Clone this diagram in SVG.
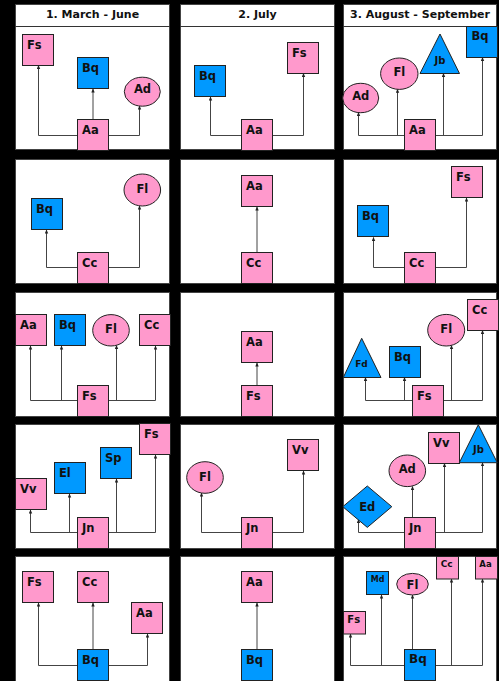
<svg xmlns="http://www.w3.org/2000/svg" width="499" height="681" viewBox="0 0 499 681">
<style>
.panel{fill:#fff;stroke:#444;stroke-width:1}
.hline{stroke:#333;stroke-width:1}
.pk{fill:#FF99CC;stroke:#222;stroke-width:1}
.bl{fill:#0099FF;stroke:#222;stroke-width:1}
text{font-family:"DejaVu Sans",Verdana,sans-serif;font-weight:bold;font-size:11.5px;fill:#111}
.m{text-anchor:middle}
.hd{font-size:11px;text-anchor:middle}
.s8{font-size:8px}
.s9{font-size:9px}
.s10{font-size:10px}
.e{fill:none;stroke:#444;stroke-width:1;marker-end:url(#ah)}
</style>
<defs>
<marker id="ah" markerUnits="userSpaceOnUse" markerWidth="4" markerHeight="4" refX="3.5" refY="2" orient="auto">
<path d="M0,0.3 L4,2 L0,3.7 z" fill="#222"/>
</marker>
</defs>
<rect x="0" y="0" width="499" height="681" fill="#000"/>
<g id="panels">
<rect class="panel" x="15.5" y="4.5" width="154" height="145"/>
<rect class="panel" x="180.5" y="4.5" width="154" height="145"/>
<rect class="panel" x="343.5" y="4.5" width="153" height="145"/>
<line class="hline" x1="15" y1="26.5" x2="170" y2="26.5"/>
<line class="hline" x1="180" y1="26.5" x2="335" y2="26.5"/>
<line class="hline" x1="343" y1="26.5" x2="497" y2="26.5"/>
<text class="hd" x="92.5" y="18">1. March - June</text>
<text class="hd" x="257.5" y="18">2. July</text>
<text class="hd" x="420" y="18">3. August - September</text>
<rect class="panel" x="15.5" y="159.5" width="154" height="124"/>
<rect class="panel" x="180.5" y="159.5" width="154" height="124"/>
<rect class="panel" x="343.5" y="159.5" width="153" height="124"/>
<rect class="panel" x="15.5" y="292.5" width="154" height="124"/>
<rect class="panel" x="180.5" y="292.5" width="154" height="124"/>
<rect class="panel" x="343.5" y="292.5" width="153" height="124"/>
<rect class="panel" x="15.5" y="424.5" width="154" height="124"/>
<rect class="panel" x="180.5" y="424.5" width="154" height="124"/>
<rect class="panel" x="343.5" y="424.5" width="153" height="124"/>
<rect class="panel" x="15.5" y="556.5" width="154" height="126"/>
<rect class="panel" x="180.5" y="556.5" width="154" height="126"/>
<rect class="panel" x="343.5" y="556.5" width="153" height="126"/>
</g>
<g id="connectors">
<path class="e" d="M77,135.5 H38.5 V65.5"/>
<path class="e" d="M93,119 V89"/>
<path class="e" d="M109,135.5 H139.5 V106"/>
<path class="e" d="M241,135.5 H210.5 V97"/>
<path class="e" d="M272,135.5 H303.5 V73.5"/>
<path class="e" d="M404,135.5 H358.5 V112.5"/>
<path class="e" d="M404,135.5 H397.5 V89.3"/>
<path class="e" d="M436,135.5 H443.5 V73.5"/>
<path class="e" d="M436,135.5 H482.5 V57.5"/>
<path class="e" d="M77,267.5 H46.5 V230"/>
<path class="e" d="M109,267.5 H139.5 V206"/>
<path class="e" d="M257,252 V207"/>
<path class="e" d="M404,267.5 H373.5 V237.5"/>
<path class="e" d="M436,267.5 H466.5 V198"/>
<path class="e" d="M77,400.5 H30.5 V346"/>
<path class="e" d="M77,400.5 H61.5 V346"/>
<path class="e" d="M109,400.5 H116.5 V345.5"/>
<path class="e" d="M109,400.5 H155.5 V346"/>
<path class="e" d="M257,385 V363"/>
<path class="e" d="M412,400.5 H365.5 V377.5"/>
<path class="e" d="M412,400.5 H404.5 V377.5"/>
<path class="e" d="M444,400.5 H451.5 V345.5"/>
<path class="e" d="M444,400.5 H482.5 V330.5"/>
<path class="e" d="M77,532.5 H30.5 V510"/>
<path class="e" d="M77,532.5 H69.5 V494"/>
<path class="e" d="M109,532.5 H116.5 V479"/>
<path class="e" d="M109,532.5 H155.5 V455"/>
<path class="e" d="M241,532.5 H201.5 V493"/>
<path class="e" d="M272,532.5 H303.5 V471"/>
<path class="e" d="M404,532.5 H358.5 V519.5"/>
<path class="e" d="M412.5,517.5 V486.5"/>
<path class="e" d="M436,532.5 H444.5 V463.5"/>
<path class="e" d="M436,532.5 H482.5 V462.7"/>
<path class="e" d="M77,665.5 H38.5 V603"/>
<path class="e" d="M93,649 V603"/>
<path class="e" d="M109,665.5 H147.5 V634"/>
<path class="e" d="M257,649 V603"/>
<path class="e" d="M404,665.5 H350.5 V634"/>
<path class="e" d="M404,665.5 H381.5 V595"/>
<path class="e" d="M412.5,649 V595"/>
<path class="e" d="M436,665.5 H451.5 V579"/>
<path class="e" d="M436,665.5 H482.5 V579"/>
</g>
<g id="r1c1-Aa"><rect class="pk" x="77.5" y="119.5" width="31" height="31"/><text x="82" y="133.5">Aa</text></g>
<g id="r1c1-Bq"><rect class="bl" x="77.5" y="57.5" width="31" height="31"/><text x="82" y="71.5">Bq</text></g>
<g id="r1c1-Fs"><rect class="pk" x="22.5" y="34.5" width="31" height="31"/><text x="27" y="48.5">Fs</text></g>
<g id="r1c1-Ad"><ellipse class="pk" cx="142.3" cy="91.7" rx="18" ry="14.5"/><text class="m" x="142.5" y="92.5">Ad</text></g>
<g id="r1c2-Aa"><rect class="pk" x="241.5" y="119.5" width="31" height="31"/><text x="246" y="133.5">Aa</text></g>
<g id="r1c2-Bq"><rect class="bl" x="194.5" y="65.5" width="31" height="31"/><text x="199" y="79.5">Bq</text></g>
<g id="r1c2-Fs"><rect class="pk" x="287.5" y="42.5" width="31" height="31"/><text x="292" y="56.5">Fs</text></g>
<g id="r1c3-Aa"><rect class="pk" x="404.5" y="119.5" width="31" height="31"/><text x="409" y="133.5">Aa</text></g>
<g id="r1c3-Ad"><ellipse class="pk" cx="360.7" cy="98" rx="18" ry="14.7"/><text class="m" x="360.7" y="99.5">Ad</text></g>
<g id="r1c3-Fl"><ellipse class="pk" cx="399.3" cy="73.7" rx="18.7" ry="15.7"/><text class="m" x="399.3" y="76">Fl</text></g>
<g id="r1c3-Jb"><polygon class="bl" points="440,34 420,73.5 459.5,73.5"/><text class="m s10" x="440" y="63.5">Jb</text></g>
<g id="r1c3-Bq"><rect class="bl" x="466.5" y="26.5" width="31" height="31"/><text x="471.5" y="39.5">Bq</text></g>
<g id="r2c1-Cc"><rect class="pk" x="77.5" y="252.5" width="31" height="31"/><text x="82" y="266.5">Cc</text></g>
<g id="r2c1-Bq"><rect class="bl" x="31.5" y="198.5" width="31" height="31"/><text x="36" y="212.5">Bq</text></g>
<g id="r2c1-Fl"><ellipse class="pk" cx="142.3" cy="190" rx="18.3" ry="16"/><text class="m" x="142.3" y="192.7">Fl</text></g>
<g id="r2c2-Cc"><rect class="pk" x="241.5" y="252.5" width="31" height="31"/><text x="246" y="266.5">Cc</text></g>
<g id="r2c2-Aa"><rect class="pk" x="241.5" y="175.5" width="31" height="31"/><text x="246" y="189.5">Aa</text></g>
<g id="r2c3-Cc"><rect class="pk" x="404.5" y="252.5" width="31" height="31"/><text x="409" y="266.5">Cc</text></g>
<g id="r2c3-Bq"><rect class="bl" x="357.5" y="205.5" width="31" height="31"/><text x="362" y="219.5">Bq</text></g>
<g id="r2c3-Fs"><rect class="pk" x="451.5" y="166.5" width="31" height="31"/><text x="456" y="180.5">Fs</text></g>
<g id="r3c1-Fs"><rect class="pk" x="77.5" y="385.5" width="31" height="31"/><text x="82" y="399.5">Fs</text></g>
<g id="r3c1-Aa"><rect class="pk" x="15.5" y="314.5" width="31" height="31"/><text x="20" y="328.5">Aa</text></g>
<g id="r3c1-Bq"><rect class="bl" x="54.5" y="314.5" width="31" height="31"/><text x="59" y="328.5">Bq</text></g>
<g id="r3c1-Fl"><ellipse class="pk" cx="111" cy="330.3" rx="18.3" ry="15.7"/><text class="m" x="111" y="333">Fl</text></g>
<g id="r3c1-Cc"><rect class="pk" x="139.5" y="314.5" width="31" height="31"/><text x="144" y="328.5">Cc</text></g>
<g id="r3c2-Fs"><rect class="pk" x="241.5" y="385.5" width="31" height="31"/><text x="246" y="399.5">Fs</text></g>
<g id="r3c2-Aa"><rect class="pk" x="241.5" y="331.5" width="31" height="31"/><text x="246" y="345.5">Aa</text></g>
<g id="r3c3-Fs"><rect class="pk" x="412.5" y="385.5" width="31" height="31"/><text x="417" y="399.5">Fs</text></g>
<g id="r3c3-Fd"><polygon class="bl" points="361.7,338.3 343.3,377.5 381,377.5"/><text class="m s9" x="361.5" y="367">Fd</text></g>
<g id="r3c3-Bq"><rect class="bl" x="389.5" y="346.5" width="31" height="31"/><text x="394" y="360.5">Bq</text></g>
<g id="r3c3-Fl"><ellipse class="pk" cx="446.2" cy="330.2" rx="18.5" ry="15.8"/><text class="m" x="446.2" y="333">Fl</text></g>
<g id="r3c3-Cc"><rect class="pk" x="467.5" y="299.5" width="31" height="31"/><text x="472" y="313.5">Cc</text></g>
<g id="r4c1-Jn"><rect class="pk" x="77.5" y="517.5" width="31" height="31"/><text x="82" y="531.5">Jn</text></g>
<g id="r4c1-Vv"><rect class="pk" x="15.5" y="478.5" width="31" height="31"/><text x="20" y="492.5">Vv</text></g>
<g id="r4c1-El"><rect class="bl" x="54.5" y="462.5" width="31" height="31"/><text x="59" y="476.5">El</text></g>
<g id="r4c1-Sp"><rect class="bl" x="100.5" y="447.5" width="31" height="31"/><text x="105" y="461.5">Sp</text></g>
<g id="r4c1-Fs"><rect class="pk" x="139.5" y="423.5" width="31" height="31"/><text x="144" y="437.5">Fs</text></g>
<g id="r4c2-Jn"><rect class="pk" x="241.5" y="517.5" width="31" height="31"/><text x="246" y="531.5">Jn</text></g>
<g id="r4c2-Fl"><ellipse class="pk" cx="205" cy="477.5" rx="18.3" ry="15.8"/><text class="m" x="205" y="480.5">Fl</text></g>
<g id="r4c2-Vv"><rect class="pk" x="287.5" y="439.5" width="31" height="31"/><text x="292" y="453.5">Vv</text></g>
<g id="r4c3-Jn"><rect class="pk" x="404.5" y="517.5" width="31" height="31"/><text x="409" y="531.5">Jn</text></g>
<g id="r4c3-Ed"><polygon class="bl" points="367.3,486 391.8,506.7 367.3,527.4 342.8,506.7"/><text class="m" x="367.3" y="510.5">Ed</text></g>
<g id="r4c3-Ad"><ellipse class="pk" cx="407.3" cy="470.8" rx="18.3" ry="15.8"/><text class="m" x="407.3" y="473.3">Ad</text></g>
<g id="r4c3-Vv"><rect class="pk" x="428.5" y="432.5" width="31" height="31"/><text x="433" y="446.5">Vv</text></g>
<g id="r4c3-Jb"><polygon class="bl" points="478.3,424.7 459.3,462.7 497.3,462.7"/><text class="m s10" x="478.5" y="453.3">Jb</text></g>
<g id="r5c1-Bq"><rect class="bl" x="77.5" y="649.5" width="31" height="31"/><text x="82" y="663.5">Bq</text></g>
<g id="r5c1-Fs"><rect class="pk" x="22.5" y="571.5" width="31" height="31"/><text x="27" y="585.5">Fs</text></g>
<g id="r5c1-Cc"><rect class="pk" x="77.5" y="571.5" width="31" height="31"/><text x="82" y="585.5">Cc</text></g>
<g id="r5c1-Aa"><rect class="pk" x="131.5" y="602.5" width="31" height="31"/><text x="136" y="616.5">Aa</text></g>
<g id="r5c2-Bq"><rect class="bl" x="241.5" y="649.5" width="31" height="31"/><text x="246" y="663.5">Bq</text></g>
<g id="r5c2-Aa"><rect class="pk" x="241.5" y="571.5" width="31" height="31"/><text x="246" y="585.5">Aa</text></g>
<g id="r5c3-Bq"><rect class="bl" x="404.5" y="649.5" width="31" height="31"/><text x="409" y="662.5" style="font-size:12px">Bq</text></g>
<g id="r5c3-Fs"><rect class="pk" x="343.5" y="611.5" width="22" height="22.5"/><text class="s10" x="347.3" y="623.3">Fs</text></g>
<g id="r5c3-Md"><rect class="bl" x="366.5" y="571.5" width="22" height="23"/><text class="s8" x="370.7" y="581.7">Md</text></g>
<g id="r5c3-Fl"><ellipse class="pk" cx="412.5" cy="584.2" rx="15.8" ry="10.8"/><text class="m" x="412.5" y="588.5">Fl</text></g>
<g id="r5c3-Cc"><rect class="pk" x="436.5" y="556.5" width="22" height="22.5"/><text class="s9" x="440.7" y="567.3">Cc</text></g>
<g id="r5c3-Aa"><rect class="pk" x="475.5" y="556.5" width="22" height="22.5"/><text class="s8" x="479.3" y="566.7" style="font-size:8.5px">Aa</text></g>
</svg>
